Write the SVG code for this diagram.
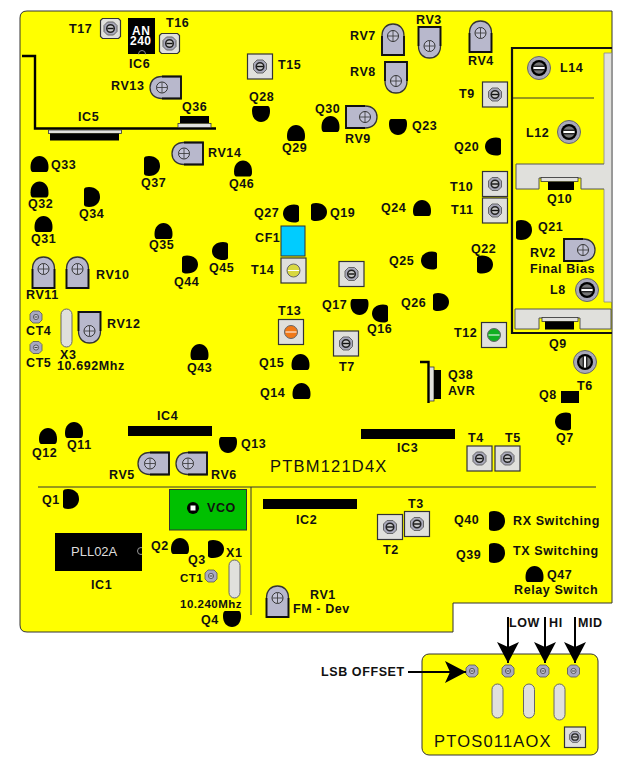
<svg xmlns="http://www.w3.org/2000/svg" width="630" height="758" viewBox="0 0 630 758">
<style>
text{font-family:"Liberation Sans",Arial,sans-serif;font-weight:bold;font-size:12.500px;letter-spacing:.6px;fill:#111}
.big{font-weight:normal;font-size:16.500px;letter-spacing:1.200px}
.sm{font-size:11.500px;letter-spacing:.5px}
.pill{fill:#e0e0dc;stroke:#666;stroke-width:1}
.ic{fill:#000}
</style>
<defs>
<path id="q" d="M-7,7 Q-9,6.500 -9,2 C-9,-5 -5,-9 0,-9 C5,-9 9,-5 9,2 Q9,6.500 7,7 Z" fill="#000"/>
<g id="scr"><path d="M-3,-6.500H3L6.500,-3V3L3,6.500H-3L-6.500,3V-3Z" fill="#a8a8b8" stroke="#666" stroke-width="1"/><circle r="3.800" fill="#c8c8c8" stroke="#222" stroke-width="1.500"/><path d="M-3,0H3" stroke="#111" stroke-width="1.400"/></g>
<g id="t"><rect x="-12.500" y="-12.500" width="25" height="25" fill="#e0e0dc" stroke="#333" stroke-width="1.200"/><use href="#scr"/></g>
<g id="ts"><path d="M-10,-8 L-8,-10 H8 L10,-8 V8 L8,10 H-8 L-10,8 Z" fill="#e0e0dc" stroke="#333" stroke-width="1.200"/><use href="#scr"/></g>
<g id="rv"><path d="M-11,19 V0 C-11,-8 -6,-12 0,-12 C6,-12 11,-8 11,0 V19 Z" fill="#b8b8cc" stroke="#333" stroke-width="1.300"/><path d="M-11,0 V19 H11 V0" fill="none" stroke="#111" stroke-width="1.800"/><circle r="5.500" fill="#c4c4d6" stroke="#333" stroke-width="1"/><path d="M-5,0H5M0,-5V5" stroke="#333" stroke-width=".8"/></g>
<g id="l"><circle r="11.500" fill="#a8a8b8" stroke="#666" stroke-width="1"/><circle r="8" fill="#000"/><circle r="5.800" fill="#777"/><path d="M-5.500,0H5.500" stroke="#fff" stroke-width="2"/><path d="M-5.500,-1.800H5.500M-5.500,1.800H5.500" stroke="#000" stroke-width="1"/></g>
<g id="ct"><path d="M-3,-6H3L6,-3V3L3,6H-3L-6,3V-3Z" fill="#a8a8c0" stroke="#555" stroke-width=".8"/><circle r="2.600" fill="#c8c8d4" stroke="#444" stroke-width=".8"/><path d="M-1.500,0H1.500" stroke="#222" stroke-width=".8"/></g>
<marker id="arr" markerUnits="userSpaceOnUse" markerWidth="22" markerHeight="24" refX="21" refY="12" orient="auto"><path d="M21,12 L0,1 L5,12 L0,23 Z" fill="#000"/></marker>
</defs>
<rect width="630" height="758" fill="#fff"/>
<g id="board-main"><path d="M27,11 H612 V603 H453 V632 H27 Q20,632 20,625 V18 Q20,11 27,11 Z" fill="#ffff00" stroke="#333" stroke-width="1"/>
<path d="M38,487H596M251,487V615" fill="none" stroke="#333" stroke-width="1"/>
<text class="big" x="270" y="472">PTBM121D4X</text></g>
<g id="board-sub"><rect x="422" y="654" width="176" height="101" rx="7" fill="#ffff00" stroke="#333" stroke-width="1"/>
<text class="big" x="434" y="747">PTOS011AOX</text></g>
<g id="final-box"><rect x="604" y="53" width="8" height="249" fill="#e0e0dc"/><path d="M604,164V53H611.500V302H604V189" fill="none" stroke="#888" stroke-width=".8"/>
<path d="M612,48H512V333H612" fill="none" stroke="#111" stroke-width="2.200"/><path d="M513,98H594" stroke="#333" stroke-width="1"/></g>
<g id="Q10"><path d="M516,164H611V189H581V178H539V189H516Z" fill="#e0e0dc"/><path d="M604,164H516V189H539V178H581V189H604" fill="none" stroke="#555" stroke-width="1"/><rect x="541" y="177.500" width="37" height="4" fill="#e0e0dc" stroke="#333" stroke-width=".8"/><rect x="548" y="182" width="26" height="8" class="ic"/><text x="547" y="203">Q10</text></g>
<g id="Q9"><path d="M515,309H611V329H580V318H539V329H515Z" fill="#e0e0dc" stroke="#555" stroke-width="1"/><rect x="542" y="317.500" width="36" height="4" fill="#e0e0dc" stroke="#333" stroke-width=".8"/><rect x="545" y="321.500" width="29" height="8" class="ic"/><text x="549" y="348">Q9</text></g>
<g id="IC5-Q36-trace"><path d="M22,56H35V128.500H216" fill="none" stroke="#000" stroke-width="2.400"/></g>
<g id="IC5"><rect x="48.500" y="130" width="73" height="3.500" fill="#e0e0dc" stroke="#333" stroke-width=".8"/><rect x="50" y="133.500" width="69" height="7" class="ic"/><text x="78" y="121">IC5</text></g>
<g id="Q36"><rect x="180" y="116" width="29" height="7" class="ic"/><rect x="178" y="123.500" width="33" height="4" fill="#e0e0dc" stroke="#333" stroke-width=".8"/><text x="182" y="111">Q36</text></g>
<g id="IC6"><rect x="128" y="18" width="27" height="36" class="ic"/><circle cx="142" cy="54" r="3.500" fill="none" stroke="#888" stroke-width="1"/><rect x="130" y="54.500" width="24" height="5" fill="#ffff00"/><text style="fill:#fff;font-size:12px;letter-spacing:.5px"><tspan x="132" y="35">AN</tspan><tspan x="130" y="45">240</tspan></text><text x="129" y="68">IC6</text></g>
<g id="IC4"><rect x="128" y="426" width="84" height="10" class="ic"/><text x="157" y="420">IC4</text></g>
<g id="IC3"><rect x="361" y="429" width="94" height="10" class="ic"/><text x="397" y="452">IC3</text></g>
<g id="IC2"><rect x="263" y="499" width="94" height="10" class="ic"/><text x="296" y="524">IC2</text></g>
<g id="IC1"><rect x="55" y="533" width="87" height="38" class="ic"/><circle cx="141" cy="551" r="3.500" fill="none" stroke="#999" stroke-width="1"/><rect x="142" y="545" width="6" height="12" fill="#ffff00"/><text x="71" y="556" style="fill:#ddd;font-weight:normal;font-size:13px;letter-spacing:0">PLL02A</text><text x="91" y="589">IC1</text></g>
<g id="VCO"><rect x="169.500" y="489.500" width="77" height="40.500" fill="#00c000" stroke="#333" stroke-width="1"/><circle cx="193" cy="508" r="6" fill="#000"/><rect x="190.500" y="505.500" width="5" height="5" fill="#fff"/><text x="207" y="512">VCO</text></g>
<g id="CF1"><rect x="281" y="226" width="24" height="30" fill="#00ccff" stroke="#333" stroke-width="1"/><text x="255" y="242">CF1</text></g>
<g id="Q38"><path d="M420,362H428.500V403" fill="none" stroke="#000" stroke-width="2.400"/><rect x="429.500" y="367" width="4.500" height="34" fill="#e0e0dc" stroke="#333" stroke-width=".8"/><rect x="434" y="370" width="7" height="29" class="ic"/><text x="448" y="379">Q38</text><text x="448" y="395">AVR</text></g>
<g id="Q8"><rect x="561" y="391" width="18" height="12" class="ic"/><text x="539" y="399">Q8</text></g>
<g id="T17"><use href="#ts" transform="translate(110.500,28.500)"/><text x="69" y="33">T17</text></g>
<g id="T16"><use href="#ts" transform="translate(169.500,43.500)"/><text x="166" y="27">T16</text></g>
<g id="T15"><use href="#t" transform="translate(260,66.500)"/><text x="278" y="69">T15</text></g>
<g id="T9"><use href="#t" transform="translate(495,94.500)"/><text x="459" y="98">T9</text></g>
<g id="T10"><use href="#t" transform="translate(495,184)"/><text x="450" y="191">T10</text></g>
<g id="T11"><use href="#t" transform="translate(495,210.500)"/><text x="451" y="214">T11</text></g>
<g id="T14"><rect x="281" y="258" width="25" height="25" fill="#e0e0dc" stroke="#333" stroke-width="1.200"/><circle cx="293.500" cy="270.500" r="6.500" fill="#d8d840" stroke="#666" stroke-width="1"/><path d="M288,270.500H299" stroke="#fff" stroke-width="1"/><text x="251" y="274">T14</text></g>
<g id="T13"><rect x="278.500" y="319.500" width="25" height="25" fill="#e0e0dc" stroke="#333" stroke-width="1.200"/><circle cx="291" cy="332" r="6.500" fill="#f07818" stroke="#666" stroke-width="1"/><path d="M285.500,332H296.500" stroke="#fff" stroke-width="1"/><text x="278" y="315">T13</text></g>
<g id="T12"><rect x="481.500" y="322.500" width="25" height="25" fill="#e0e0dc" stroke="#333" stroke-width="1.200"/><circle cx="494" cy="335" r="6.500" fill="#10b020" stroke="#666" stroke-width="1"/><path d="M488.500,335H499.500" stroke="#fff" stroke-width="1"/><text x="454" y="337">T12</text></g>
<g id="T-unlabeled"><use href="#t" transform="translate(351.500,274)"/></g>
<g id="T7"><use href="#t" transform="translate(346,343.500)"/><text x="339" y="371">T7</text></g>
<g id="T4"><use href="#t" transform="translate(479.500,458.500)"/><text x="468" y="442">T4</text></g>
<g id="T5"><use href="#t" transform="translate(507.500,458.500)"/><text x="505" y="442">T5</text></g>
<g id="T2"><use href="#t" transform="translate(390,527)"/><text x="383" y="554">T2</text></g>
<g id="T3"><use href="#t" transform="translate(417,524)"/><text x="408" y="508">T3</text></g>
<g id="T-sub"><rect x="564.500" y="727" width="21" height="20.500" fill="#e0e0dc" stroke="#333" stroke-width="1.200"/><use href="#scr" transform="translate(575,737) scale(.85)"/></g>
<g id="T6"><g transform="translate(585,362) rotate(90)"><use href="#l"/></g><text x="577" y="390">T6</text></g>
<g id="L14"><use href="#l" transform="translate(539,68)"/><text x="560" y="72">L14</text></g>
<g id="L12"><use href="#l" transform="translate(569,132)"/><text x="526" y="137">L12</text></g>
<g id="L8"><use href="#l" transform="translate(587,290)"/><text x="550" y="294">L8</text></g>
<g id="RV7"><use href="#rv" transform="translate(393,36)"/><text x="350" y="40">RV7</text></g>
<g id="RV3"><use href="#rv" transform="translate(429.500,46) rotate(180)"/><text x="416" y="24">RV3</text></g>
<g id="RV4"><use href="#rv" transform="translate(480.500,33)"/><text x="468" y="65">RV4</text></g>
<g id="RV8"><use href="#rv" transform="translate(396,81) rotate(180)"/><text x="350" y="76">RV8</text></g>
<g id="RV9"><use href="#rv" transform="translate(365,117) rotate(90)"/><text x="345" y="143">RV9</text></g>
<g id="RV13"><use href="#rv" transform="translate(162,87.500) rotate(-90)"/><text x="111" y="90">RV13</text></g>
<g id="RV14"><use href="#rv" transform="translate(184,153.500) rotate(-90)"/><text x="208" y="157">RV14</text></g>
<g id="RV2"><use href="#rv" transform="translate(583,250) rotate(90)"/><text x="530" y="257">RV2</text><text x="530" y="273">Final Bias</text></g>
<g id="RV11"><use href="#rv" transform="translate(43.500,269)"/><text x="26" y="299">RV11</text></g>
<g id="RV10"><use href="#rv" transform="translate(77.500,269)"/><text x="96" y="279">RV10</text></g>
<g id="RV12"><use href="#rv" transform="translate(89.500,331) rotate(180)"/><text x="107" y="328">RV12</text></g>
<g id="RV5"><use href="#rv" transform="translate(150,463.500) rotate(-90)"/><text x="109" y="479">RV5</text></g>
<g id="RV6"><use href="#rv" transform="translate(188,463.500) rotate(-90)"/><text x="211" y="479">RV6</text></g>
<g id="RV1"><use href="#rv" transform="translate(277.500,598)"/><text x="310" y="599">RV1</text><text x="293" y="613">FM - Dev</text></g>
<g id="X3"><rect x="61" y="309" width="11" height="38" rx="5.500" class="pill"/><text><tspan x="60" y="359">X3</tspan><tspan x="57" y="370">10.692Mhz</tspan></text></g>
<g id="X1"><rect x="229" y="560" width="11" height="38" rx="5.500" class="pill"/><text x="226" y="557">X1</text><text class="sm" x="180" y="608">10.240Mhz</text></g>
<g id="CT4"><use href="#ct" transform="translate(36,317)"/><text x="26" y="335">CT4</text></g>
<g id="CT5"><use href="#ct" transform="translate(36,347.500)"/><text x="26" y="367">CT5</text></g>
<g id="CT1"><use href="#ct" transform="translate(211,576)"/><text class="sm" x="180" y="582">CT1</text></g>
<g id="sub-parts">
<use href="#ct" transform="translate(472,671)"/><use href="#ct" transform="translate(508,671)"/><use href="#ct" transform="translate(543,671)"/><use href="#ct" transform="translate(573.500,671)"/>
<rect x="492" y="684" width="11" height="34" rx="5.500" class="pill"/><rect x="523.500" y="684" width="11" height="34" rx="5.500" class="pill"/><rect x="554" y="684" width="11" height="36" rx="5.500" class="pill"/>
</g>
<g id="Q28"><use href="#q" transform="translate(261,113) rotate(180)"/><text x="249" y="101">Q28</text></g>
<g id="Q29"><use href="#q" transform="translate(296,134)"/><text x="282" y="152">Q29</text></g>
<g id="Q33"><use href="#q" transform="translate(39.500,165)"/><text x="51" y="169">Q33</text></g>
<g id="Q32"><use href="#q" transform="translate(39.500,190.500)"/><text x="28" y="208">Q32</text></g>
<g id="Q31"><use href="#q" transform="translate(43.500,225)"/><text x="31" y="243">Q31</text></g>
<g id="Q34"><use href="#q" transform="translate(91,197) rotate(90) scale(1.100,1)"/><text x="79" y="218">Q34</text></g>
<g id="Q37"><use href="#q" transform="translate(151,166) rotate(90) scale(1.100,1)"/><text x="141" y="187">Q37</text></g>
<g id="Q35"><use href="#q" transform="translate(163.500,232)"/><text x="149" y="249">Q35</text></g>
<g id="Q46"><use href="#q" transform="translate(243,169.500)"/><text x="229" y="188">Q46</text></g>
<g id="Q27"><use href="#q" transform="translate(292,213.500) rotate(-90)"/><text x="254" y="217">Q27</text></g>
<g id="Q19"><use href="#q" transform="translate(318,212) rotate(90)"/><text x="330" y="217">Q19</text></g>
<g id="Q30"><use href="#q" transform="translate(330.500,125)"/><text x="315" y="113">Q30</text></g>
<g id="Q23"><use href="#q" transform="translate(398,126) rotate(180)"/><text x="412" y="130">Q23</text></g>
<g id="Q20"><use href="#q" transform="translate(494,146.500) rotate(-90)"/><text x="454" y="151">Q20</text></g>
<g id="Q24"><use href="#q" transform="translate(422,209)"/><text x="381" y="212">Q24</text></g>
<g id="Q21"><use href="#q" transform="translate(523,230) rotate(90) scale(1.100,1)"/><text x="538" y="231">Q21</text></g>
<g id="Q25"><use href="#q" transform="translate(430,260.500) rotate(-90)"/><text x="389" y="265">Q25</text></g>
<g id="Q22"><use href="#q" transform="translate(484,264.500) rotate(90)"/><text x="471" y="253">Q22</text></g>
<g id="Q26"><use href="#q" transform="translate(440,302) rotate(90)"/><text x="401" y="307">Q26</text></g>
<g id="Q17"><use href="#q" transform="translate(359.500,306) rotate(180)"/><text x="322" y="309">Q17</text></g>
<g id="Q16"><use href="#q" transform="translate(381,313.500) rotate(-90)"/><text x="367" y="333">Q16</text></g>
<g id="Q7"><use href="#q" transform="translate(564,421.500) rotate(-90)"/><text x="556" y="442">Q7</text></g>
<g id="Q45"><use href="#q" transform="translate(221,251) rotate(-90)"/><text x="209" y="272">Q45</text></g>
<g id="Q44"><use href="#q" transform="translate(189,264.500) rotate(90)"/><text x="174" y="286">Q44</text></g>
<g id="Q43"><use href="#q" transform="translate(199.500,353)"/><text x="187" y="372">Q43</text></g>
<g id="Q15"><use href="#q" transform="translate(300.500,363)"/><text x="259" y="367">Q15</text></g>
<g id="Q14"><use href="#q" transform="translate(301.500,392)"/><text x="260" y="397">Q14</text></g>
<g id="Q12"><use href="#q" transform="translate(48,437)"/><text x="32" y="457">Q12</text></g>
<g id="Q11"><use href="#q" transform="translate(74,431)"/><text x="67" y="449">Q11</text></g>
<g id="Q13"><use href="#q" transform="translate(228,444) rotate(180)"/><text x="241" y="448">Q13</text></g>
<g id="Q1"><use href="#q" transform="translate(70,499) rotate(90) scale(1.100,1)"/><text x="42" y="504">Q1</text></g>
<g id="Q2"><use href="#q" transform="translate(180,547)"/><text x="151" y="550">Q2</text></g>
<g id="Q3"><use href="#q" transform="translate(215,549) rotate(90)"/><text x="188" y="564">Q3</text></g>
<g id="Q4"><use href="#q" transform="translate(232,618) rotate(180)"/><text x="201" y="624">Q4</text></g>
<g id="Q40"><use href="#q" transform="translate(496,521) rotate(90) scale(1.100,1)"/><text x="454" y="524">Q40</text><text x="513" y="525">RX Switching</text></g>
<g id="Q39"><use href="#q" transform="translate(496,553) rotate(90) scale(1.100,1)"/><text x="456" y="559">Q39</text><text x="513" y="555">TX Switching</text></g>
<g id="Q47"><use href="#q" transform="translate(534.500,575)"/><text x="547" y="579">Q47</text><text x="514" y="594">Relay Switch</text></g>
<g id="connectors" fill="none" stroke="#000" stroke-width="2">
<path d="M408,672H466" marker-end="url(#arr)"/>
<path d="M508,617V663" marker-end="url(#arr)"/>
<path d="M545,617V663" marker-end="url(#arr)"/>
<path d="M575,617V663" marker-end="url(#arr)"/>
</g>
<g id="callouts"><text x="321" y="676">LSB OFFSET</text><text x="509" y="627">LOW</text><text x="549" y="627">HI</text><text x="578" y="627">MID</text></g>
</svg>
